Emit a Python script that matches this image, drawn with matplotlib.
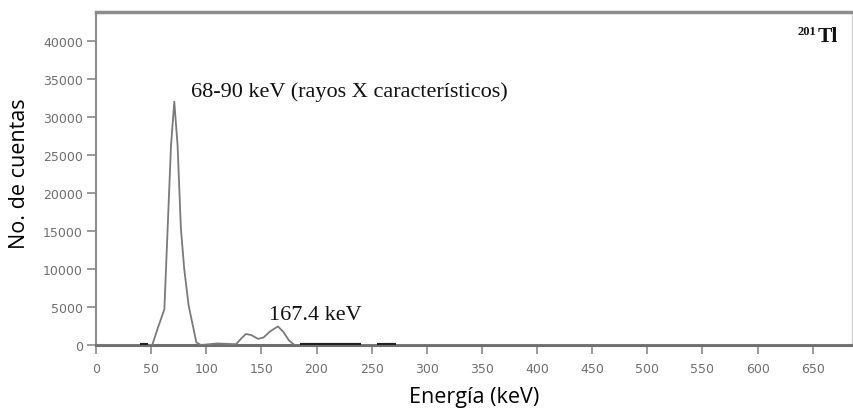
import matplotlib
matplotlib.use("Agg")
import matplotlib.pyplot as plt

# Espectro de 201Tl (lectura de la curva)
energia = [0, 40, 48, 51, 56, 62, 66, 68, 71, 74, 77, 80, 84, 91, 95, 110, 127, 132, 136, 141, 147, 152, 158, 165, 170, 175, 180, 690]
cuentas = [0, 0, 0, 0, 2200, 4700, 19000, 26200, 32000, 26200, 15300, 10000, 5200, 350, 0, 200, 100, 900, 1450, 1300, 800, 1000, 1800, 2450, 1700, 600, 0, 0]

# tramos con ruido sobre la línea base
ruido_ini = [40, 185, 255]
ruido_fin = [47, 240, 272]

xticks = list(range(0, 700, 50))
yticks = list(range(0, 45000, 5000))

fig = plt.figure(figsize=(8.54, 4.14), dpi=100)
ax = fig.add_axes([96 / 854, 1 - 346 / 414, (852 - 96) / 854, (346 - 13) / 414])

ax.plot(energia, cuentas, color="#7a7a7a", lw=1.3, zorder=3)
for a, b in zip(ruido_ini, ruido_fin):
    ax.plot([a, b], [0, 0], color="#222222", lw=3.0, solid_capstyle="butt", zorder=4)

ax.set_xlim(0, 685.6)
ax.set_ylim(0, 43800)
ax.set_xticks(xticks)
ax.set_yticks(yticks)
ax.tick_params(axis="both", colors="#8a8a8a", length=6.5, width=1.2, labelsize=9,
               labelcolor="#6e6e6e", pad=3)
ax.tick_params(axis="x", pad=6)

ax.spines["top"].set_color("#8c8c8c")
ax.spines["top"].set_linewidth(2.5)
ax.spines["left"].set_color("#8c8c8c")
ax.spines["left"].set_linewidth(1.5)
ax.spines["bottom"].set_color("#6e6e6e")
ax.spines["bottom"].set_linewidth(2.2)
ax.spines["right"].set_color("#cfcfcf")
ax.spines["right"].set_linewidth(1.0)

for lab in ax.get_xticklabels() + ax.get_yticklabels():
    lab.set_fontfamily("DejaVu Sans")

ax.text(86, 33400, "68-90 keV (rayos X característicos)", family="Liberation Serif",
        fontsize=16, color="#111111", va="center", ha="left")
ax.text(157, 3950, "167.4 keV", family="Liberation Serif", fontsize=16,
        color="#111111", va="center", ha="left")

ax.text(673, 40700, "Tl", family="Liberation Serif", fontsize=15.5, fontweight="bold",
        color="#111111", va="center", ha="right")
ax.text(653, 41300, "201", family="Liberation Serif", fontsize=9, fontweight="bold",
        color="#111111", va="center", ha="right")

fig.text(474 / 854, 1 - 398 / 414, "Energía (keV)", family="Open Sans", fontsize=15.5,
         ha="center", va="center")
fig.text(20 / 854, 1 - 174 / 414, "No. de cuentas", family="Open Sans", fontsize=15.5,
         ha="center", va="center", rotation=90)

fig.savefig("out.png", dpi=100)
